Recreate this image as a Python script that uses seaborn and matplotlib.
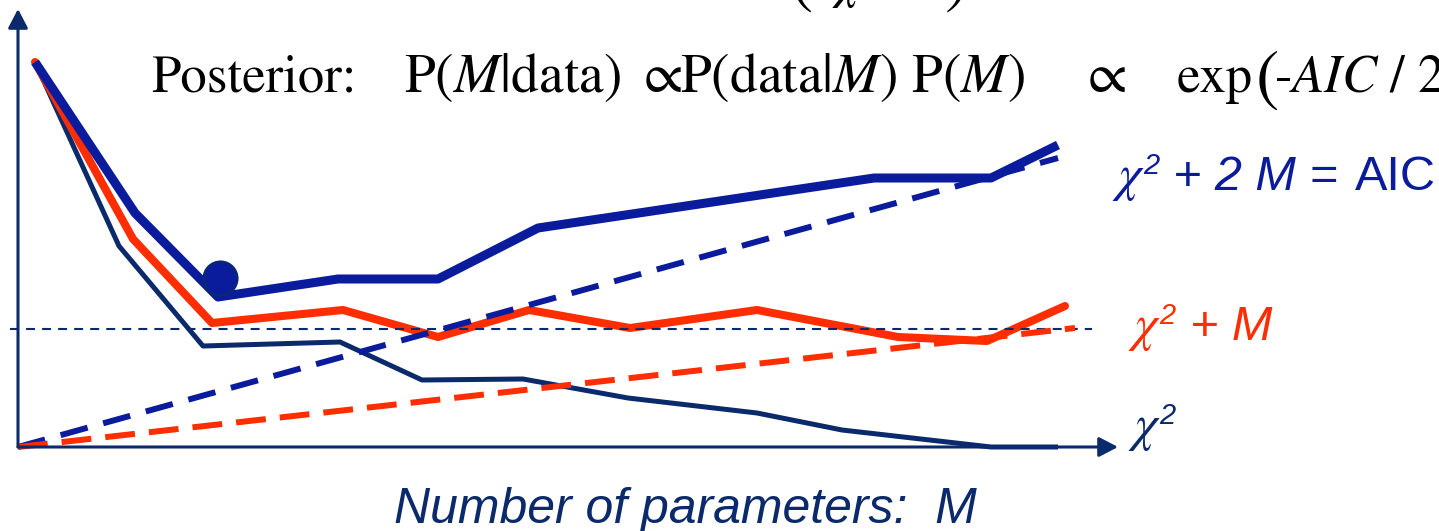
import matplotlib
matplotlib.use("Agg")
import matplotlib.pyplot as plt
import seaborn as sns

# colours
navy = "#0B2A6B"
blue = "#0A1C9C"
red = "#FF2D00"

# --- data (origin = corner of the axes) ---
# chi^2 + 2M  (AIC)
aic_m = [17, 117, 200, 320, 420, 520, 856, 973, 1040]
aic_val = [385, 234, 150, 168, 168, 219, 269, 269, 302]
# chi^2 + M
chi_m_m = [17, 115, 194, 325, 420, 511, 612, 739, 880, 969, 1047]
chi_m_val = [385, 208, 124, 137, 110, 137, 119, 137, 110, 106, 141]
# chi^2
chi_m = [17, 101, 185, 322, 404, 505, 610, 739, 824, 973, 1040]
chi_val = [385, 201, 101, 105, 67, 68, 49, 34, 17, 0, 0]
# penalty terms 2M and M
pen2_m = [0, 1040]
pen2_val = [0, 289]
pen1_m = [0, 1057]
pen1_val = [0, 119]
# reference level
level_m = [-8, 1074]
level_val = [118, 118]
# best model (minimum AIC)
best_m = [202]
best_val = [169]

sns.set_theme(style="white")
plt.rcParams["mathtext.fontset"] = "custom"
plt.rcParams["mathtext.rm"] = "Liberation Sans"
plt.rcParams["mathtext.it"] = "Liberation Sans:italic"

fig = plt.figure(figsize=(14.39, 5.31), dpi=100)
ax = fig.add_axes([0, 0, 1, 1])
ax.set_xlim(-18, 1421)
ax.set_ylim(-84, 447)
ax.axis("off")


def px(x, y):
    # picture pixel -> data position (only used for the text labels)
    return x - 18, 447 - y


# axes with arrow heads
arrow = dict(arrowstyle="-|>,head_length=1.15,head_width=0.6", lw=2.2,
             color=navy, mutation_scale=10, shrinkA=0, shrinkB=0)
ax.annotate("", xy=(1100, 0), xytext=(0, 0), arrowprops=arrow)
ax.annotate("", xy=(0, 438), xytext=(0, 0), arrowprops=arrow)

# curves
sns.lineplot(x=chi_m, y=chi_val, color=navy, lw=3.6, ax=ax,
             estimator=None, sort=False, solid_capstyle="butt")
sns.lineplot(x=chi_m_m, y=chi_m_val, color=red, lw=5.8, ax=ax,
             estimator=None, sort=False, solid_capstyle="round")
sns.lineplot(x=aic_m, y=aic_val, color=blue, lw=6.5, ax=ax,
             estimator=None, sort=False, solid_capstyle="butt")
sns.lineplot(x=level_m, y=level_val, color=navy, lw=1.5, ax=ax,
             estimator=None, linestyle=(0, (4.3, 3.4)))
sns.lineplot(x=pen2_m, y=pen2_val, color=blue, lw=4.3, ax=ax,
             estimator=None, linestyle=(0, (4.7, 2.7)))
sns.lineplot(x=pen1_m, y=pen1_val, color=red, lw=4.3, ax=ax,
             estimator=None, linestyle=(0, (5.0, 2.35)))
sns.scatterplot(x=best_m, y=best_val, s=600, color=blue, edgecolor=navy,
                linewidth=1.5, ax=ax, zorder=5)

# curve labels
sans_it = dict(family="Liberation Sans", style="italic", fontsize=35)
for (x0, yb, col, rest) in [(1112, 190, blue, "+ 2 M ="),
                            (1128, 340, red, "+ M"),
                            (1128, 440, navy, None)]:
    ax.text(*px(x0, yb), r"$\chi$", math_fontfamily="stix", fontsize=37,
            color=col, va="baseline", ha="left")
    ax.text(*px(x0 + 31, yb - 16), "2", color=col, va="baseline", ha="left",
            family="Liberation Sans", style="italic", fontsize=21)
    if rest:
        ax.text(*px(x0 + 61 if col == blue else x0 + 62, yb), rest, color=col,
                va="baseline", ha="left", **sans_it)
ax.text(*px(1355, 190), "AIC", color=blue, va="baseline", ha="left",
        family="Liberation Sans", fontsize=35)

# x-axis title
ax.text(*px(394, 523), "Number of parameters:  M", color=navy,
        va="baseline", ha="left", **{**sans_it, "fontsize": 36})

# formula line
serif = dict(family="STIXGeneral", fontsize=38, color="black",
             va="baseline", ha="left", math_fontfamily="stix")
ax.text(*px(151, 92), "Posterior:", **serif)
ax.text(*px(404, 92), r"P($M$|data)", **{**serif, "fontsize": 40})
ax.text(*px(644, 92), "\u221d", **{**serif, "fontsize": 41})
ax.text(*px(680, 92), r"P(data|$M$) P($M$)", **{**serif, "fontsize": 40})
ax.text(*px(1088, 92), "\u221d", **{**serif, "fontsize": 41})
ax.text(*px(1177, 92), "exp", **serif)
ax.text(*px(1256, 98), "(", **{**serif, "fontsize": 50})
ax.text(*px(1274, 92), r"-$AIC$ / 2", **serif)

# line above, mostly outside the picture
ax.text(*px(757, -4), "P", **serif)
ax.text(*px(790, 0), "(", **{**serif, "fontsize": 50})
ax.text(*px(832, -3), r"$\chi$", **serif)
ax.text(*px(945, 0), ")", **{**serif, "fontsize": 50})

plt.savefig("out.png", dpi=100)
